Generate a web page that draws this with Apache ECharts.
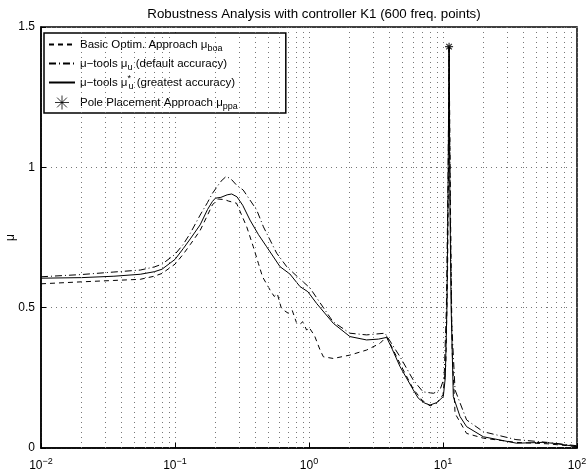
<!DOCTYPE html>
<html>
<head>
<meta charset="utf-8">
<script src="https://cdn.jsdelivr.net/npm/echarts@6/dist/echarts.min.js"></script>
<style>
html, body { margin: 0; padding: 0; background: #fff; }
#main { width: 587px; height: 472px; }
</style>
</head>
<body>
<div id="main"></div>
<script>
// Basic Optim. Approach (dashed)
var boaFreq = [0.01, 0.02, 0.035, 0.055, 0.07, 0.08, 0.1, 0.115, 0.13, 0.154, 0.175, 0.19, 0.21, 0.235, 0.25, 0.288, 0.343, 0.384, 0.419, 0.45, 0.512,
    0.55, 0.58, 0.62, 0.643, 0.7, 0.75, 0.81, 0.85, 0.9, 0.96, 1.0, 1.1, 1.21, 1.28, 1.52, 2.02, 2.69, 3.39, 3.8,
    4.78, 6.0, 7.0, 8.0, 9.0, 10.0, 10.5, 10.8, 11.0, 11.1, 11.4, 11.7, 12.3, 15.0, 20, 35, 60, 100];
var boaMu = [0.585, 0.592, 0.597, 0.601, 0.612, 0.622, 0.655, 0.69, 0.725, 0.775, 0.83, 0.866, 0.887, 0.885, 0.88, 0.872, 0.788, 0.717, 0.658, 0.61, 0.563,
    0.54, 0.55, 0.5, 0.492, 0.48, 0.49, 0.444, 0.44, 0.45, 0.42, 0.43, 0.4, 0.349, 0.325, 0.319, 0.331, 0.349, 0.373, 0.397,
    0.3, 0.21, 0.17, 0.15, 0.16, 0.19, 0.3, 0.6, 1.0, 1.43, 0.8, 0.35, 0.123, 0.052, 0.035, 0.02, 0.015, 0.005];

// mu-tools, default accuracy (dash-dot)
var uFreq = [0.01, 0.02, 0.035, 0.055, 0.07, 0.08, 0.1, 0.115, 0.13, 0.154, 0.175, 0.19, 0.22, 0.24, 0.26, 0.29, 0.323, 0.407, 0.457, 0.574, 0.682, 0.8,
    1.017, 1.51, 2.02, 2.69, 3.69, 4.78, 6.0, 7.1, 8.5, 9.5, 10.2, 10.6, 10.9, 11.1, 11.3, 11.6, 12.3, 15.0, 20, 35, 60, 100];
var uMu = [0.61, 0.618, 0.627, 0.634, 0.645, 0.655, 0.69, 0.725, 0.765, 0.83, 0.875, 0.907, 0.95, 0.967, 0.96, 0.935, 0.919, 0.848, 0.788, 0.694, 0.646, 0.615,
    0.57, 0.45, 0.409, 0.403, 0.409, 0.325, 0.242, 0.2, 0.195, 0.207, 0.25, 0.5, 0.95, 1.43, 0.9, 0.45, 0.207, 0.1, 0.058, 0.03, 0.02, 0.008];

// mu-tools, greatest accuracy (solid)
var uStarFreq = [0.01, 0.02, 0.035, 0.055, 0.07, 0.08, 0.1, 0.115, 0.13, 0.154, 0.175, 0.19, 0.2, 0.22, 0.245, 0.265, 0.29, 0.32, 0.363, 0.42,
    0.483, 0.608, 0.72, 0.857, 0.98, 1.14, 1.52, 2.02, 2.69, 3.3, 3.8, 4.2, 4.78, 6.0, 6.55, 7.3, 8.0, 9.0, 10.05,
    10.4, 10.7, 10.9, 11.1, 11.25, 11.5, 11.94, 13.4, 15.0, 20, 35.5, 55, 66, 100];
var uStarMu = [0.605, 0.607, 0.612, 0.619, 0.628, 0.637, 0.672, 0.71, 0.745, 0.795, 0.85, 0.878, 0.89, 0.893, 0.902, 0.905, 0.895, 0.865, 0.812, 0.76,
    0.717, 0.646, 0.62, 0.575, 0.557, 0.515, 0.444, 0.397, 0.385, 0.388, 0.394, 0.35, 0.29, 0.207, 0.177, 0.16, 0.153, 0.162, 0.183,
    0.25, 0.5, 0.9, 1.43, 0.9, 0.5, 0.183, 0.112, 0.076, 0.04, 0.017, 0.02, 0.017, 0.005];

// Pole Placement Approach
var ppaFreq = [11.1];
var ppaMu = [1.43];

// dotted grid lines between the decades
var minorGrid = [0.02, 0.03, 0.04, 0.05, 0.06, 0.07, 0.08, 0.09,
    0.2, 0.3, 0.4, 0.5, 0.6, 0.7, 0.8, 0.9,
    2, 3, 4, 5, 6, 7, 8, 9,
    20, 30, 40, 50, 60, 70, 80, 90];

function pairs(xs, ys) {
    return xs.map(function (x, i) { return [x, ys[i]]; });
}

var legendText = {
    boa: 'Basic Optim. Approach μ{sub|boa}',
    u: 'μ−tools μ{sub|u} (default accuracy)',
    ustar: 'μ−tools μ{su|*}{sub|u} (greatest accuracy)',
    ppa: 'Pole Placement Approach μ{sub|ppa}'
};

var font = 'Liberation Sans';
var dotted = { color: '#777', width: 1, type: [1, 4] };
var noSymbol = { color: 'rgba(0,0,0,0)', borderWidth: 0 };

var myChart = echarts.init(document.getElementById('main'));
var option = {
    animation: false,
    backgroundColor: '#fff',
    title: {
        text: 'Robustness Analysis with controller K1 (600 freq. points)',
        left: 309,
        top: 3,
        textAlign: 'center',
        textStyle: { fontFamily: font, fontSize: 13.3, fontWeight: 'normal', color: '#000' }
    },
    grid: {
        left: 41, right: 10, top: 27, bottom: 24,
        outerBoundsMode: 'none',
        containLabel: false,
        show: true, borderColor: '#000', borderWidth: 1.5
    },
    legend: {
        data: [
            { name: 'boa', itemStyle: noSymbol },
            { name: 'u', itemStyle: noSymbol },
            { name: 'ustar', itemStyle: noSymbol },
            { name: 'ppa', itemStyle: { borderWidth: 1 } }
        ],
        orient: 'vertical',
        left: 44,
        top: 33,
        padding: [3, 48, 1, 4],
        itemGap: 2,
        itemWidth: 26,
        itemHeight: 14,
        backgroundColor: '#fff',
        borderColor: '#000',
        borderWidth: 1.5,
        formatter: function (name) { return legendText[name]; },
        textStyle: {
            fontFamily: font, fontSize: 11.5, color: '#000', lineHeight: 14,
            rich: {
                sub: { fontFamily: font, fontSize: 9, color: '#000', lineHeight: 8, padding: [8, 0, 0, 0] },
                su: { fontFamily: font, fontSize: 9, color: '#000', lineHeight: 8, width: 1, padding: [0, 0, 8, 0] }
            }
        }
    },
    xAxis: {
        type: 'log',
        logBase: 10,
        min: 0.01,
        max: 100,
        axisLine: { lineStyle: { color: '#000', width: 1.5 } },
        axisTick: { inside: true, length: 5, lineStyle: { color: '#000' } },
        splitLine: { show: true, lineStyle: dotted },
        axisLabel: {
            color: '#000', fontFamily: font, fontSize: 12, margin: 9,
            formatter: function (v) {
                var e = Math.round(Math.log10(v));
                return '10{sup|' + (e < 0 ? '−' + (-e) : e) + '}';
            },
            rich: { sup: { fontFamily: font, fontSize: 9, color: '#000', padding: [0, 0, 8, 0] } }
        }
    },
    yAxis: {
        type: 'value',
        min: 0,
        max: 1.5,
        interval: 0.5,
        name: 'μ',
        nameLocation: 'middle',
        nameGap: 24,
        nameMoveOverlap: false,
        nameRotate: 90,
        nameTextStyle: { fontFamily: font, fontSize: 12, color: '#000' },
        axisLine: { show: true, lineStyle: { color: '#000', width: 1.5 } },
        axisTick: { inside: true, length: 5, lineStyle: { color: '#000' } },
        splitLine: { show: true, lineStyle: dotted },
        axisLabel: { color: '#000', fontFamily: font, fontSize: 12, margin: 6 }
    },
    series: [
        {
            name: 'grid',
            type: 'line',
            data: [],
            z: 1,
            silent: true,
            markLine: {
                silent: true,
                symbol: ['none', 'none'],
                label: { show: false },
                lineStyle: dotted,
                data: minorGrid.map(function (v) { return { xAxis: v }; })
            }
        },
        {
            name: 'boa',
            type: 'line',
            data: pairs(boaFreq, boaMu),
            showSymbol: false,
            symbol: 'none',
            z: 3,
            itemStyle: { color: '#000' },
            lineStyle: { color: '#000', width: 1, type: [5, 4] }
        },
        {
            name: 'u',
            type: 'line',
            data: pairs(uFreq, uMu),
            showSymbol: false,
            symbol: 'none',
            z: 3,
            itemStyle: { color: '#000' },
            lineStyle: { color: '#000', width: 1, type: [7, 3, 1, 3] }
        },
        {
            name: 'ustar',
            type: 'line',
            data: pairs(uStarFreq, uStarMu),
            showSymbol: false,
            symbol: 'none',
            z: 3,
            itemStyle: { color: '#000' },
            lineStyle: { color: '#000', width: 1 }
        },
        {
            name: 'ppa',
            type: 'scatter',
            data: pairs(ppaFreq, ppaMu),
            z: 4,
            symbol: 'path://M0,-5L0,5M-5,0L5,0M-3.5,-3.5L3.5,3.5M-3.5,3.5L3.5,-3.5',
            symbolSize: 8,
            itemStyle: { color: 'none', borderColor: '#000', borderWidth: 1.2 }
        }
    ]
};

myChart.setOption(option);
</script>
</body>
</html>
